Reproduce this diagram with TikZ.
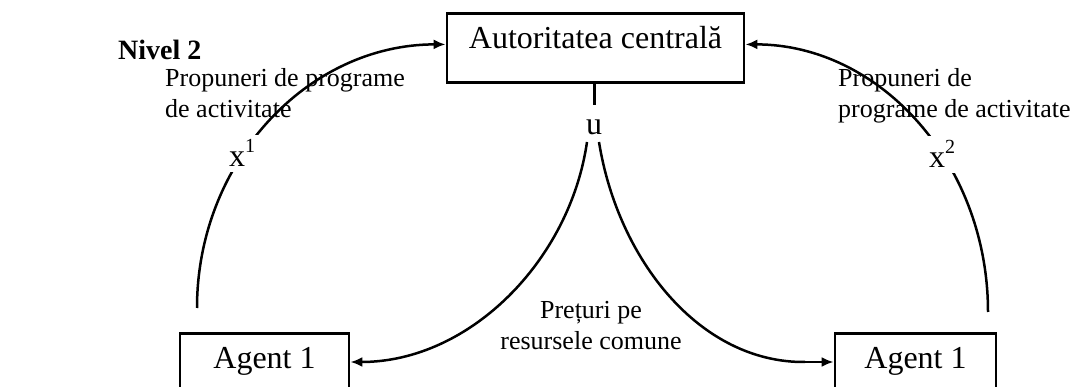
\documentclass[tikz,border=0pt]{standalone}
\usepackage{fontspec}
\setmainfont{Liberation Serif}
\usetikzlibrary{arrows.meta,calc}
\tikzset{
  boxnode/.style={draw, line width=2.8pt, inner xsep=0pt, inner ysep=12pt, text height=23pt},
  big/.style={font=\fontsize{32}{35}\selectfont},
  small/.style={font=\fontsize{26}{31}\selectfont, inner sep=0pt},
  conn/.style={line width=2.5pt},
  arr/.style={conn, -{Latex[length=12pt,width=10pt]}},
  xlab/.style={big, fill=white, inner sep=5pt}
}
\newcommand{\supnum}[1]{\raisebox{14pt}{\fontsize{20}{20}\selectfont #1}}
\begin{document}
\begin{tikzpicture}[x=1pt,y=-1pt]
\useasboundingbox (0,0) rectangle (1077,387);
\clip (0,0) rectangle (1077,387);

% boxes
\node[boxnode, big, anchor=north, minimum width=297pt, text depth=22pt] (top) at (595.5,12) {Autoritatea centrală};
\node[boxnode, big, anchor=north, minimum width=169pt, text depth=40pt] (aL) at (264.5,332) {Agent 1};
\node[boxnode, big, anchor=north, minimum width=161pt, text depth=40pt] (aR) at (915.5,332) {Agent 1};

% labels
\node[font=\bfseries\fontsize{28}{30}\selectfont, anchor=base west, inner sep=0pt] (niv) at (118,60) {Nivel 2};
\node[small, anchor=base west, align=left] (pl) at (165,118) {Propuneri de programe\\de activitate};
\node[small, anchor=base west, align=left] (pr) at (838,118) {Propuneri de\\programe de activitate};
\node[small, anchor=base, align=center] (pp) at (591,350) {Prețuri pe\\resursele comune};
\node[big, anchor=base, inner sep=0pt] (u) at (594,135) {u};

% coordinates
\coordinate (l0) at (197,308);
\coordinate (r0) at (988,312);
\coordinate (uL) at (587,142);
\coordinate (uR) at (599,142);
\coordinate (rE) at (805,362);

% connectors
\draw[arr] (l0) .. controls +(0,-146) and +(-138,0) .. ([yshift=3.5pt]top.west);
\draw[arr] (r0) .. controls +(0,-149) and +(134,0) .. ([yshift=3.5pt]top.east);
\draw[conn, line width=3pt] (top.south -| u) -- ++(0,21);
\draw[arr] (uL) .. controls (570,260) and (470,362) .. (aL.east |- 0,362);
\draw[conn] (uR) .. controls (618,260) and (700,363) .. (rE);
\draw[arr] (rE) -- (aR.west |- rE);

% x labels (mask the arcs)
\node[xlab, anchor=base] (x1) at (242,167) {x\supnum{1}};
\node[xlab, anchor=base] (x2) at (942,168) {x\supnum{2}};
\end{tikzpicture}
\end{document}
